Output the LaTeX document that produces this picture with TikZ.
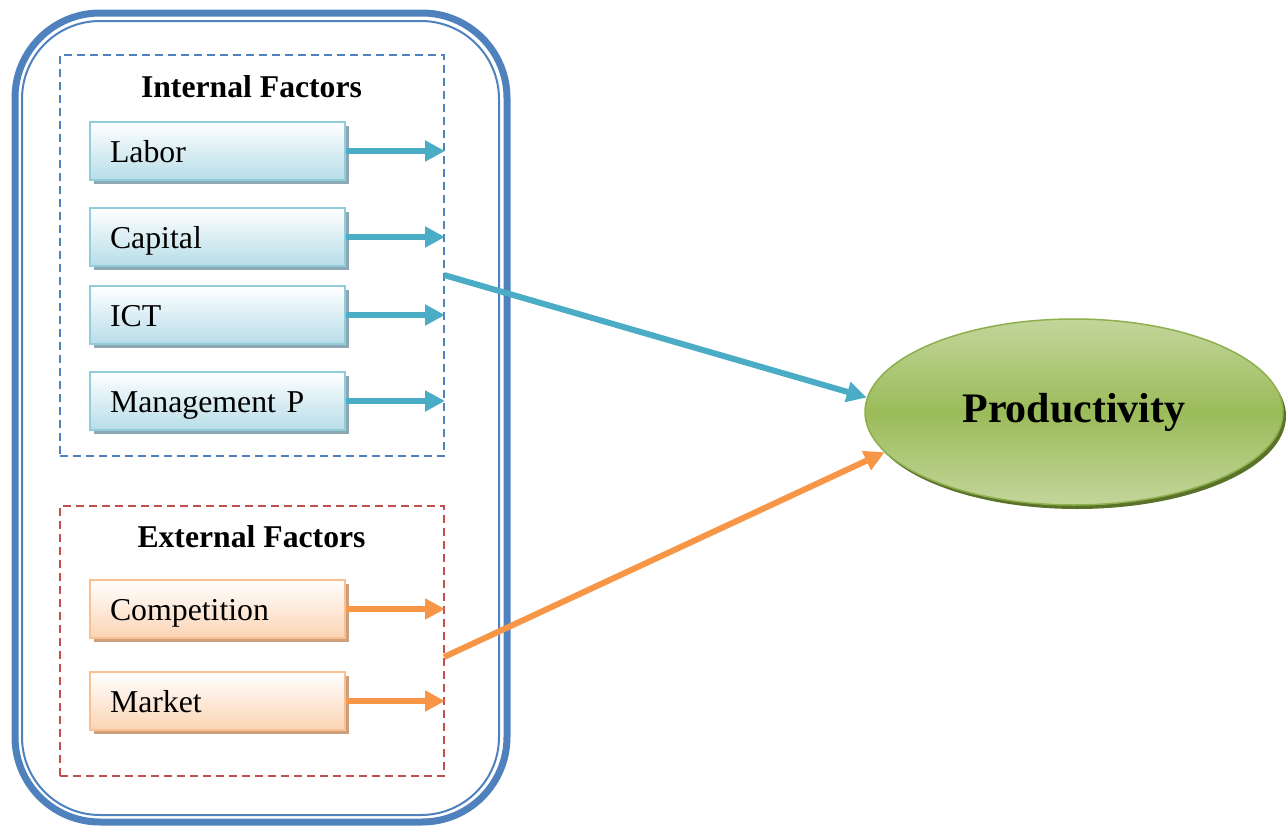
\documentclass[tikz,border=0pt]{standalone}
\usepackage{fontspec}
\setmainfont{Liberation Serif}
\usetikzlibrary{arrows.meta,shapes.geometric,shadows}

\definecolor{frameblue}{HTML}{4F81BD}
\definecolor{dashred}{HTML}{C0504D}
\definecolor{tealarrow}{HTML}{4BACC6}
\definecolor{orangearrow}{HTML}{F79646}
\definecolor{bluebord}{HTML}{92CDDC}
\definecolor{bluefill}{HTML}{B7DDE8}
\definecolor{blueshadow}{RGB}{140,168,178}
\definecolor{orangebord}{HTML}{FAC090}
\definecolor{orangefill}{HTML}{FBD4B4}
\definecolor{orangeshadow}{RGB}{204,160,124}
\definecolor{greenmid}{HTML}{9BBB59}
\definecolor{greenlight}{HTML}{C3D69B}
\definecolor{greenbord}{HTML}{8EB04C}
\definecolor{greenshadow}{HTML}{5A7229}

\tikzset{
  groupbox/.style={draw, line width=2pt, dash pattern=on 8pt off 5pt,
    minimum width=384pt, inner sep=0pt},
  heading/.style={font=\fontsize{31.7}{38}\selectfont\bfseries},
  factor/.style={line width=2pt, text width=215pt, inner xsep=20pt,
    minimum height=58pt, align=left, text height=27pt, text depth=5pt,
    font=\fontsize{31.8}{38}\selectfont},
  internal/.style={factor, draw=bluebord, top color=white, bottom color=bluefill,
    general shadow={fill=blueshadow, shadow xshift=4pt, shadow yshift=-4pt}},
  external/.style={factor, draw=orangebord, top color=white, bottom color=orangefill,
    general shadow={fill=orangeshadow, shadow xshift=4pt, shadow yshift=-4pt}},
  link/.style={line width=6pt,
    -{Triangle[length=20pt,width=20pt]}},
}

\begin{document}
\begin{tikzpicture}[x=1pt,y=-1pt]
\useasboundingbox (0,0) rectangle (1286,827);

% outer frame: thick line with a thin line inside
\node[draw=frameblue, line width=7pt, rounded corners=85pt, inner sep=0pt,
  minimum width=492pt, minimum height=809pt] (frame) at (261,417.5) {};
\node[draw=frameblue, line width=2pt, rounded corners=78pt, inner sep=0pt,
  minimum width=477pt, minimum height=794pt] (frameinner) at (260.5,418) {};

% groups
\node[groupbox, draw=frameblue, minimum height=401pt] (inbox) at (252,255.5) {};
\node[groupbox, draw=dashred, minimum height=270pt] (exbox) at (252,641) {};

\node[heading] (inhead) at (251.5,87) {Internal Factors};
\node[heading] (exhead) at (251.5,537) {External Factors};

% factors
\node[internal] (labor)   at (217.5,151) {Labor};
\node[internal] (capital) at (217.5,237) {Capital};
\node[internal] (ict)     at (217.5,315) {ICT};
\node[internal] (mgmt)    at (217.5,401) {Management P};
\node[external] (comp)    at (217.5,609) {Competition};
\node[external] (market)  at (217.5,701) {Market};

\foreach \f in {labor,capital,ict,mgmt}
  \draw[link, tealarrow] (\f.east) -- (\f.east -| inbox.east);
\foreach \f in {comp,market}
  \draw[link, orangearrow] (\f.east) -- (\f.east -| exbox.east);

% outcome
\node[ellipse, draw=greenbord, line width=1.5pt, inner sep=0pt,
  minimum width=418pt, minimum height=186pt,
  top color=greenlight, bottom color=greenlight, middle color=greenmid,
  general shadow={fill=greenshadow, shadow xshift=3pt, shadow yshift=-4pt},
  font=\fontsize{42}{50}\selectfont\bfseries] (prod) at (1074,412) {Productivity};

\coordinate (instart) at (444,275);
\coordinate (exstart) at (444,657);
\draw[link, tealarrow] (instart) -- (prod.176.7);
\draw[link, orangearrow] (exstart) -- (prod.192.7);
\end{tikzpicture}
\end{document}
